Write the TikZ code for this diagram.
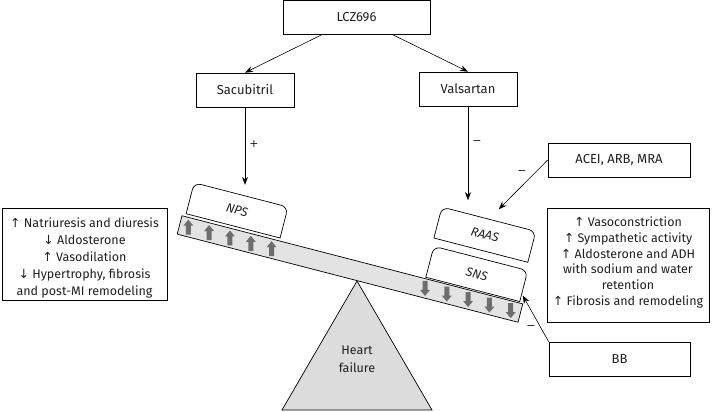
\documentclass[tikz,border=0pt]{standalone}
\usepackage{fontspec}
\setmainfont{Fira Sans}
\newfontfamily\arr{DejaVu Sans}
\usetikzlibrary{calc,arrows.meta}
\definecolor{beamgray}{HTML}{E3E3E3}
\definecolor{trigray}{HTML}{DCDCDC}
\definecolor{arrowgray}{HTML}{6D6D6D}
\definecolor{ink}{HTML}{231F20}
\tikzset{
  box/.style={draw, line width=0.7pt, minimum height=34pt, inner sep=0pt, align=center, font=\fontsize{13}{15}\selectfont},
  ttext/.style={align=center, inner sep=0pt},
  frame/.style={draw, line width=0.7pt},
  conn/.style={-{Stealth[length=8pt,width=6pt]}, line width=0.6pt},
  padlabel/.style={rotate=-14.5, inner sep=1pt, font=\itshape\fontsize{12.5}{15}\selectfont},
  padshape/.style={draw, fill=white, line width=0.7pt},
  sign/.style={font=\arr\fontsize{11}{13}\selectfont},
  uparrow/.pic={\fill[arrowgray] (-2.5,7.5) -- (-2.5,-1.5) -- (-5,-1.5) -- (0,-7.5) -- (5,-1.5) -- (2.5,-1.5) -- (2.5,7.5) -- cycle;},
  downarrow/.pic={\fill[arrowgray] (-2.5,-7.5) -- (-2.5,1.5) -- (-5,1.5) -- (0,7.5) -- (5,1.5) -- (2.5,1.5) -- (2.5,-7.5) -- cycle;}
}
\begin{document}
\begin{tikzpicture}[x=1pt,y=-1pt,text=ink]
\useasboundingbox (0,0) rectangle (713,412);

% top boxes
\node[box, minimum width=147pt] (lcz) at (356.5,17) {LCZ696};
\node[box, minimum width=98pt] (sac) at (245,90) {Sacubitril};
\node[box, minimum width=98pt] (val) at (468,89) {Valsartan};
\node[box, minimum width=142pt] (acei) at (619,160) {ACEI, ARB, MRA};
\node[box, minimum width=141pt] (bb) at (619.5,359) {BB};

% effect boxes
\node[ttext, font=\fontsize{12.5}{16.9}\selectfont] (effL) at (84.5,258)
  {{\arr↑} Natriuresis and diuresis\\{\arr↓} Aldosterone\\{\arr↑} Vasodilation\\{\arr↓} Hypertrophy, fibrosis\\and post-MI remodeling};
\draw[frame] ($(effL.center)+(-82.5,-50)$) rectangle ++(165,92);
\node[ttext, font=\fontsize{12.5}{15.8}\selectfont] (effR) at (628,262.5)
  {{\arr↑} Vasoconstriction\\{\arr↑} Sympathetic activity\\{\arr↑} Aldosterone and ADH\\with sodium and water\\retention\\{\arr↑} Fibrosis and remodeling};
\draw[frame] ($(effR.center)+(-81,-54.5)$) rectangle ++(162,114);

% fulcrum
\draw[fill=trigray, line width=0.7pt] (357,281) -- (432,410) -- (282,410) -- cycle;
\node[align=center, font=\fontsize{12.5}{18}\selectfont] (hf) at (357,359) {Heart\\failure};

% beam and pads
\begin{scope}[shift={(350,269)}, rotate=-14.5]
  \draw[fill=beamgray, line width=0.7pt] (-176,-9.5) rectangle (176,9.5);
  \foreach \u in {-167,-145.5,-124,-102.5,-81} \pic at (\u,0) {uparrow};
  \foreach \u in {77.5,100,122,144,166} \pic at (\u,0) {downarrow};
  \foreach \p/\cu/\cv in {nps/-124/-28.5, raas/122/-67, sns/124/-27}{
    \draw[padshape] (\cu-48.5,\cv+16) [rounded corners=7pt] -- (\cu-48.5,\cv-16) -- (\cu+48.5,\cv-16) [sharp corners] -- (\cu+48.5,\cv+16) -- cycle;
    \coordinate (\p-n) at (\cu,\cv-16);
    \coordinate (\p-se) at (\cu+48.5,\cv+16);
    \coordinate (\p-ne) at (\cu+48.5,\cv-16);
  }
  \node[padlabel] (nps) at (-124,-28.5) {NPS};
  \node[padlabel] (raas) at (122,-67) {RAAS};
  \node[padlabel] (sns) at (124,-27) {SNS};
\end{scope}

% connectors
\draw[conn] ($(lcz.south west)!0.27!(lcz.south east)$) -- (sac.north);
\draw[conn] ($(lcz.south west)!0.74!(lcz.south east)$) -- (val.north);
\draw[conn, shorten >=10pt] (sac.south) -- (sac.south |- nps-n);
\draw[conn, shorten >=19pt] (val.south) -- (val.south |- raas-n);
\draw[conn, shorten >=14pt] (acei.west) -- (raas-n);
\draw[conn, shorten >=2pt] (bb.north west) -- ($(sns-se)!0.25!(sns-ne)$);

% signs
\node[sign] at (254,144) {+};
\node[sign] at (477,143) {−};
\node[sign] at (522,173) {−};
\node[sign] at (531,328) {−};
\end{tikzpicture}
\end{document}
